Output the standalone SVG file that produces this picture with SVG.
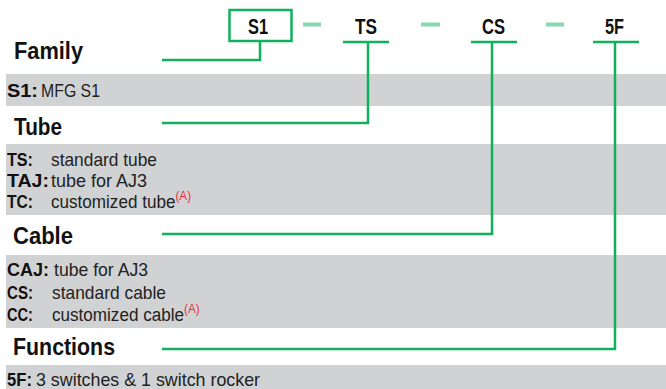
<svg xmlns="http://www.w3.org/2000/svg" width="666" height="389" viewBox="0 0 666 389">
<style>
.band{fill:#d1d2d4}
.ln{fill:none;stroke:#10b15c;stroke-width:2.5}
.dash{fill:#86d9b0}
.code{font-family:"Liberation Sans",Arial,sans-serif;font-weight:bold;font-size:22px;fill:#111;text-anchor:middle}
.head{font-family:"Liberation Sans",Arial,sans-serif;font-weight:bold;font-size:24px;fill:#111}
.lab{font-family:"Liberation Sans",Arial,sans-serif;font-weight:bold;font-size:19px;fill:#111}
.desc{font-family:"Liberation Sans",Arial,sans-serif;font-size:19px;fill:#222}
.sup{font-size:13px;fill:#e8303a}
</style>
<g id="bands">
<rect class="band" x="6" y="74" width="660" height="32"/>
<rect class="band" x="6" y="144" width="660" height="71"/>
<rect class="band" x="6" y="255" width="660" height="73"/>
<rect class="band" x="6" y="365" width="660" height="24"/>
</g>
<g id="connectors">
<path class="ln" d="M260,41 V60 H162"/>
<path class="ln" d="M343,42 H389 M368,42 V123 H162"/>
<path class="ln" d="M471,42 H517 M492,42 V234 H162"/>
<path class="ln" d="M593,42 H639 M615,42 V349 H162"/>
</g>
<g id="dashes">
<rect class="dash" x="303" y="22.5" width="18" height="4"/>
<rect class="dash" x="421" y="22.5" width="19" height="4"/>
<rect class="dash" x="546" y="22.5" width="18" height="4"/>
</g>
<g id="code-S1">
<rect x="229.5" y="10" width="62" height="31" fill="#fff" stroke="#10b15c" stroke-width="2.5"/>
<text class="code" x="258" y="34" textLength="20" lengthAdjust="spacingAndGlyphs">S1</text>
</g>
<g id="code-TS"><text class="code" x="366" y="34" textLength="22" lengthAdjust="spacingAndGlyphs">TS</text></g>
<g id="code-CS"><text class="code" x="493.5" y="34" textLength="23" lengthAdjust="spacingAndGlyphs">CS</text></g>
<g id="code-5F"><text class="code" x="614.5" y="34" textLength="19" lengthAdjust="spacingAndGlyphs">5F</text></g>
<g id="family">
<text class="head" x="14" y="59" textLength="69" lengthAdjust="spacingAndGlyphs">Family</text>
<text class="lab" x="7" y="97" textLength="31" lengthAdjust="spacingAndGlyphs">S1:</text>
<text class="desc" x="41" y="97" textLength="59" lengthAdjust="spacingAndGlyphs">MFG S1</text>
</g>
<g id="tube">
<text class="head" x="14" y="135" textLength="48" lengthAdjust="spacingAndGlyphs">Tube</text>
<text class="lab" x="7" y="166" textLength="26" lengthAdjust="spacingAndGlyphs">TS:</text>
<text class="desc" x="51" y="166" textLength="106" lengthAdjust="spacingAndGlyphs">standard tube</text>
<text class="lab" x="7" y="187" textLength="42" lengthAdjust="spacingAndGlyphs">TAJ:</text>
<text class="desc" x="51" y="187" textLength="96" lengthAdjust="spacingAndGlyphs">tube for AJ3</text>
<text class="lab" x="7" y="208" textLength="26" lengthAdjust="spacingAndGlyphs">TC:</text>
<text class="desc" transform="translate(51,208) scale(0.9,1)">customized tube<tspan class="sup" dy="-8">(A)</tspan></text>
</g>
<g id="cable">
<text class="head" x="13" y="244" textLength="60" lengthAdjust="spacingAndGlyphs">Cable</text>
<text class="lab" x="7" y="276" textLength="42" lengthAdjust="spacingAndGlyphs">CAJ:</text>
<text class="desc" x="54" y="276" textLength="94" lengthAdjust="spacingAndGlyphs">tube for AJ3</text>
<text class="lab" x="7" y="298.5" textLength="26" lengthAdjust="spacingAndGlyphs">CS:</text>
<text class="desc" x="52" y="298.5" textLength="114" lengthAdjust="spacingAndGlyphs">standard cable</text>
<text class="lab" x="7" y="321" textLength="26" lengthAdjust="spacingAndGlyphs">CC:</text>
<text class="desc" transform="translate(52,321) scale(0.9,1)">customized cable<tspan class="sup" dy="-8">(A)</tspan></text>
</g>
<g id="functions">
<text class="head" x="13" y="355" textLength="102" lengthAdjust="spacingAndGlyphs">Functions</text>
<text class="lab" x="7" y="386" textLength="25" lengthAdjust="spacingAndGlyphs">5F:</text>
<text class="desc" x="36" y="386" textLength="224" lengthAdjust="spacingAndGlyphs">3 switches &amp; 1 switch rocker</text>
</g>
</svg>
